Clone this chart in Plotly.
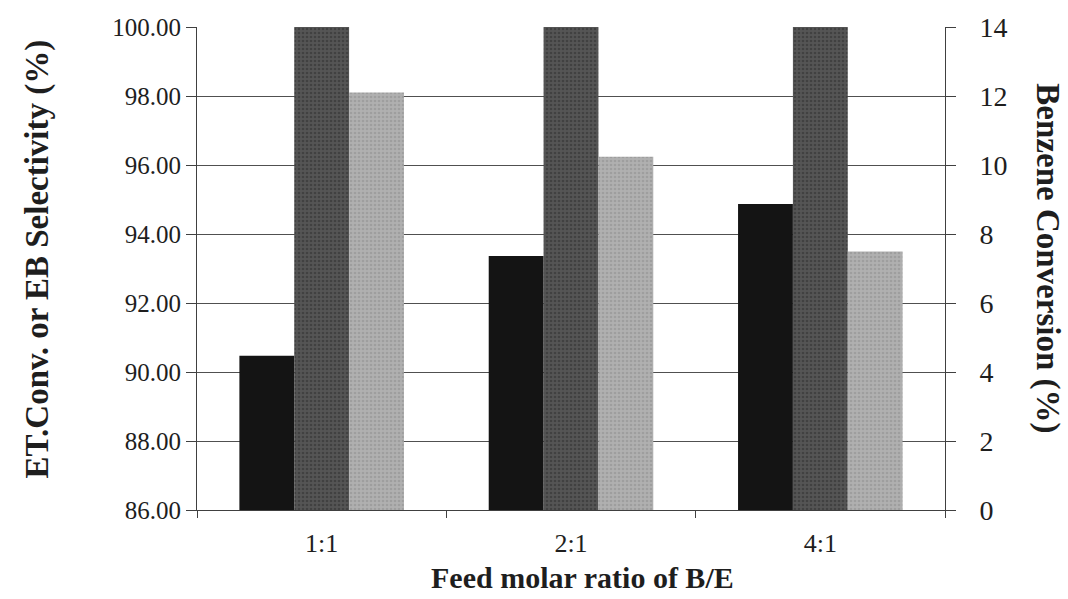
import plotly.graph_objects as go

categories = ["1:1", "2:1", "4:1"]
eb_selectivity = [90.47, 93.36, 94.87]      # black, left axis
et_conversion = [100.0, 100.0, 100.0]       # dark gray, left axis
benzene_conversion = [12.1, 10.24, 7.49]    # light gray, right axis

left_ticks = [86, 88, 90, 92, 94, 96, 98, 100]
left_ticktext = ["%.2f" % v for v in left_ticks]
right_ticks = [0, 2, 4, 6, 8, 10, 12, 14]

serif = "Liberation Serif, Times New Roman, serif"
ink = "#1e1e1e"
axc = "#404040"

fig = go.Figure()
fig.add_trace(go.Bar(x=categories, y=eb_selectivity, name="EB Selectivity",
                     marker=dict(color="#141414", line=dict(width=0)),
                     offsetgroup="a", yaxis="y"))
fig.add_trace(go.Bar(x=categories, y=et_conversion, name="ET Conversion",
                     marker=dict(color="#4c4c4c", line=dict(width=0),
                                 pattern=dict(shape=".", fgcolor="#2e2e2e", bgcolor="#555555",
                                              size=4, solidity=0.35)),
                     offsetgroup="b", yaxis="y"))
fig.add_trace(go.Bar(x=categories, y=benzene_conversion, name="Benzene Conversion",
                     marker=dict(color="#a9a9a9", line=dict(width=0),
                                 pattern=dict(shape=".", fgcolor="#8c8c8c", bgcolor="#b0b0b0",
                                              size=4, solidity=0.35)),
                     offsetgroup="c", yaxis="y2"))

fig.update_layout(
    width=1068, height=599,
    margin=dict(l=197, r=123, t=27, b=89),
    paper_bgcolor="white", plot_bgcolor="white",
    barmode="group", bargap=0.34, bargroupgap=0,
    showlegend=False,
    font=dict(family=serif, size=26, color=ink),
    xaxis=dict(type="category", showgrid=False, showline=True, linecolor=axc,
               linewidth=1, ticks="outside", tickson="boundaries", ticklen=7,
               tickcolor=axc, tickfont=dict(family=serif, size=26, color=ink),
               ticklabelstandoff=10),
    yaxis=dict(range=[86, 100], tickvals=left_ticks, ticktext=left_ticktext,
               showgrid=True, gridcolor="#505050", gridwidth=1,
               showline=True, linecolor=axc, linewidth=1,
               ticks="outside", ticklen=10, tickcolor=axc,
               tickfont=dict(family=serif, size=25, color=ink),
               zeroline=False),
    yaxis2=dict(range=[0, 14], tickvals=right_ticks, overlaying="y", side="right",
                showgrid=False, showline=True, linecolor=axc, linewidth=1,
                ticks="outside", ticklen=10, tickcolor=axc,
                tickfont=dict(family=serif, size=28, color=ink),
                ticklabelstandoff=18, zeroline=False),
    annotations=[
        dict(text="<b>ET.Conv. or EB Selectivity (%)</b>", xref="paper", yref="paper",
             x=-0.213, y=0.52, textangle=-90, showarrow=False,
             xanchor="center", yanchor="middle",
             font=dict(family=serif, size=33, color=ink)),
        dict(text="<b>Benzene Conversion (%)</b>", xref="paper", yref="paper",
             x=1.137, y=0.52, textangle=90, showarrow=False,
             xanchor="center", yanchor="middle",
             font=dict(family=serif, size=33, color=ink)),
        dict(text="<b>Feed molar ratio of B/E</b>", xref="paper", yref="paper",
             x=0.515, y=-0.14, showarrow=False,
             xanchor="center", yanchor="middle",
             font=dict(family=serif, size=30, color=ink)),
    ],
)

fig.write_html("out.html")
